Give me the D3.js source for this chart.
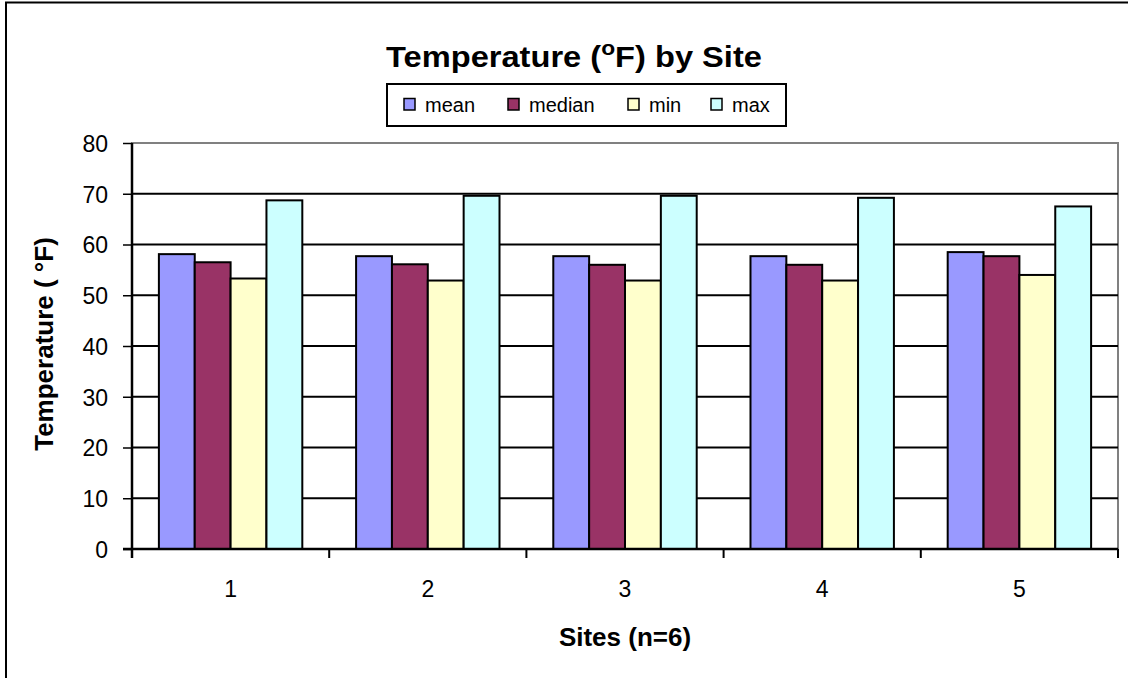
<!DOCTYPE html>
<html><head><meta charset="utf-8">
<script src="https://cdn.jsdelivr.net/npm/d3@7"></script>
<style>body{margin:0;background:#fff}svg{display:block;font-family:Arial,"Liberation Sans",sans-serif}</style>
</head><body><svg id="c" width="1128" height="678"></svg>
<script>
const sites = ["1","2","3","4","5"];
const seriesNames = ["mean","median","min","max"];
const meanVals = [58.1, 57.7, 57.7, 57.7, 58.5];
const medianVals = [56.5, 56.1, 56.0, 56.0, 57.7];
const minVals = [53.3, 52.9, 52.9, 52.9, 54.0];
const maxVals = [68.7, 69.6, 69.6, 69.2, 67.5];
const colors = ["#9999FF", "#993366", "#FFFFCC", "#CCFFFF"];
const yTicks = [0,10,20,30,40,50,60,70,80];

const series = [meanVals, medianVals, minVals, maxVals];
const FONT = "Arial, 'Liberation Sans', sans-serif";
const svg = d3.select("#c");
const L = 132, R = 1118, T = 143, B = 549;

// outer border
svg.append("rect").attr("x",6).attr("y",2.5).attr("width",1130).attr("height",690)
  .attr("fill","#fff").attr("stroke","#000").attr("stroke-width",2);

const x = d3.scaleBand().domain(sites).range([L,R]).paddingInner(0).paddingOuter(0);
const y = d3.scaleLinear().domain([0,80]).range([B,T]);
const bw = x.bandwidth()/5.5;
const x1 = d3.scaleBand().domain(seriesNames).range([bw*0.75, bw*0.75 + bw*4]);

// plot area border (gray)
svg.append("rect").attr("x",L).attr("y",T).attr("width",R-L).attr("height",B-T)
  .attr("fill","none").attr("stroke","#808080").attr("stroke-width",2);

// gridlines
svg.append("g").selectAll("line").data(yTicks.filter(t=>t>0 && t<80)).join("line")
  .attr("x1",L).attr("x2",R).attr("y1",d=>y(d)).attr("y2",d=>y(d))
  .attr("stroke","#000").attr("stroke-width",2);

// bars
const g = svg.append("g");
series.forEach((vals, si) => {
  g.append("g").selectAll("rect").data(vals).join("rect")
    .attr("x",(d,i)=>x(sites[i]) + x1(seriesNames[si]))
    .attr("y",d=>y(d)).attr("width",x1.bandwidth()).attr("height",d=>B-y(d))
    .attr("fill",colors[si]).attr("stroke","#000").attr("stroke-width",2);
});

// y axis
const ya = svg.append("g").attr("transform",`translate(${L},0)`)
  .call(d3.axisLeft(y).tickValues(yTicks).tickSize(9).tickPadding(15));
ya.select(".domain").attr("stroke","#000").attr("stroke-width",2.5).attr("d",`M0,${T}V${B+9}`);
ya.selectAll(".tick line").attr("stroke","#000").attr("stroke-width",1.5);
ya.selectAll("text").attr("font-size",23).attr("fill","#000").attr("font-family",FONT).attr("dy","0.36em");

// x axis
const xa = svg.append("g").attr("transform",`translate(0,${B})`)
  .call(d3.axisBottom(x).tickSize(0).tickPadding(0));
xa.select(".domain").attr("stroke","#000").attr("stroke-width",2.5).attr("d",`M${L-9},0H${R}`);
xa.selectAll("text").attr("font-size",23).attr("fill","#000").attr("font-family",FONT)
  .attr("dy",null).attr("y",48);
// category separator ticks
svg.append("g").selectAll("line").data(d3.range(sites.length+1)).join("line")
  .attr("x1",i=>L + i*x.step()).attr("x2",i=>L + i*x.step())
  .attr("y1",B).attr("y2",B+9).attr("stroke","#000").attr("stroke-width",2);

// title
const title = svg.append("text").attr("x",0).attr("y",0).attr("text-anchor","middle")
  .attr("font-size",30).attr("font-weight","bold").attr("fill","#000");
title.append("tspan").text("Temperature (");
title.append("tspan").attr("font-size",21).attr("dy",-12).text("o");
title.append("tspan").attr("dy",12).text("F) by Site");
const tw = title.node().getBBox().width;
title.attr("transform",`translate(574,67) scale(${376/tw},1)`);

// axis titles
svg.append("text").attr("transform","translate(53,344) rotate(-90)").attr("text-anchor","middle")
  .attr("font-size",26).attr("font-weight","bold").attr("fill","#000")
  .text("Temperature ( °F)");
svg.append("text").attr("x",(L+R)/2).attr("y",646).attr("text-anchor","middle")
  .attr("font-size",26).attr("font-weight","bold").attr("fill","#000").text("Sites (n=6)");

// legend
svg.append("rect").attr("x",387).attr("y",84).attr("width",399).attr("height",42)
  .attr("fill","#fff").attr("stroke","#000").attr("stroke-width",2);
const legX = [404, 508, 628, 711];
const lg = svg.append("g").selectAll("g").data(seriesNames).join("g")
  .attr("transform",(d,i)=>`translate(${legX[i]},98.5)`);
lg.append("rect").attr("width",11).attr("height",11.5).attr("fill",(d,i)=>colors[i])
  .attr("stroke","#000").attr("stroke-width",1.5);
lg.append("text").attr("x",21).attr("y",13).attr("font-size",20).attr("fill","#000").text(d=>d);
</script></body></html>
